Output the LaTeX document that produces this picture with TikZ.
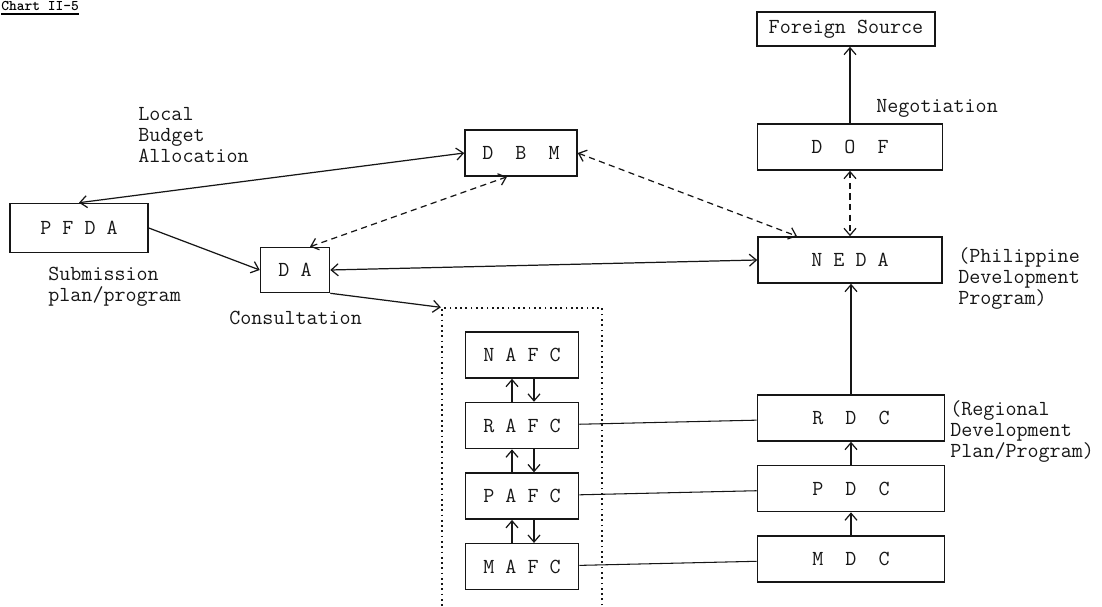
\documentclass[tikz,border=0pt]{standalone}
\usetikzlibrary{positioning,arrows.meta,fit}
\definecolor{ink}{RGB}{22,22,22}
\tikzset{
  box/.style={draw=ink, rectangle, align=center, inner sep=2pt,
    font=\ttfamily\fontsize{12.2}{14}\selectfont, text=ink, line width=0.9pt,
    minimum height=0.92cm},
  lbl/.style={align=left, inner sep=0pt, anchor=north west,
    font=\ttfamily\fontsize{12.2}{12}\selectfont, text=ink},
  flow/.style={-{Straight Barb[length=1.4mm,width=2.4mm]}, line width=0.7pt, draw=ink},
  both/.style={{Straight Barb[length=1.4mm,width=2.4mm]}-{Straight Barb[length=1.4mm,width=2.4mm]},
    line width=0.7pt, draw=ink},
  dflow/.style={both, dash pattern=on 3.5pt off 2.5pt},
  link/.style={line width=0.6pt, draw=ink},
  grpbox/.style={draw=ink, dotted, line width=1pt, inner sep=0.46cm},
}

\begin{document}
\begin{tikzpicture}[x=0.02cm, y=-0.02cm, node distance=0.46cm]
  \useasboundingbox (0,0) rectangle (1102,607);
  % caption
  \node[font=\ttfamily\bfseries\fontsize{8.4}{10}\selectfont, anchor=north west, inner sep=0] (ttl) at (1,1) {Chart II-5};
  \draw[line width=1.2pt] ([yshift=-1.5pt]ttl.south west) -- ([yshift=-1.5pt]ttl.south east);
  % right column
  \node[box, minimum width=3.56cm, minimum height=0.68cm] (fsrc) at (846,29) {Foreign Source};
  \node[box, minimum width=3.7cm] (dof) at (850,147) {D~~O~~F};
  \node[box, minimum width=3.68cm] (neda) at (850,260) {N E D A};
  \node[box, minimum width=3.74cm] (rdc) at (851,418) {R~~D~~C};
  \node[box, minimum width=3.74cm, below=of rdc] (pdc) {P~~D~~C};
  \node[box, minimum width=3.74cm, below=of pdc] (mdc) {M~~D~~C};
  % left part
  \node[box, minimum width=2.24cm] (dbm) at (521,153) {D~~B~~M};
  \node[box, minimum width=1.38cm, minimum height=0.9cm] (da) at (295,270) {D A};
  \node[box, minimum width=2.76cm, minimum height=0.98cm] (pfda) at (79,228) {P F D A};
  % councils
  \node[box, minimum width=2.26cm] (nafc) at (522,355) {N A F C};
  \node[box, minimum width=2.26cm, below=of nafc] (rafc) {R A F C};
  \node[box, minimum width=2.26cm, below=of rafc] (pafc) {P A F C};
  \node[box, minimum width=2.26cm, below=of pafc] (mafc) {M A F C};
  \node[grpbox, fit=(nafc)(mafc)] (grp) {};
  % labels
  \node[lbl] (lba) at (138,107) {Local\\Budget\\Allocation};
  \node[lbl] (spp) at (48,267) {Submission\\plan/program};
  \node[lbl] (cons) at (229,311) {Consultation};
  \node[lbl] (negot) at (876,99) {Negotiation};
  \node[lbl] (pdp) at (958,247) {(Philippine\\Development\\Program)};
  \node[lbl] (rdp) at (950,400) {(Regional\\Development\\Plan/Program)};
  % connectors
  \draw[flow] (dof.north) -- (dof.north |- fsrc.south);
  \draw[dflow] (dof) -- (neda);
  \draw[both] (pfda.north) -- (dbm.west);
  \draw[flow] (pfda.east) -- (da.west);
  \draw[dflow] ([xshift=0.3cm]da.north) -- ([xshift=-0.28cm]dbm.south);
  \draw[dflow] (dbm.east) -- ([xshift=-1.06cm]neda.north);
  \draw[both] (da.east) -- (neda.west);
  \draw[flow] (da.south east) -- (grp.north west);
  \draw[flow] (rdc.north) -- (rdc.north |- neda.south);
  \draw[flow] (mdc) -- (pdc);
  \draw[flow] (pdc) -- (rdc);
  \draw[link] (rafc) -- (rdc);
  \draw[link] (pafc) -- (pdc);
  \draw[link] (mafc) -- (mdc);
  \foreach \lo/\hi in {rafc/nafc, pafc/rafc, mafc/pafc} {
    \draw[flow] ([xshift=-0.2cm]\lo.north) -- ([xshift=-0.2cm]\hi.south);
    \draw[flow] ([xshift=0.24cm]\hi.south) -- ([xshift=0.24cm]\lo.north);
  }
\end{tikzpicture}
\end{document}
